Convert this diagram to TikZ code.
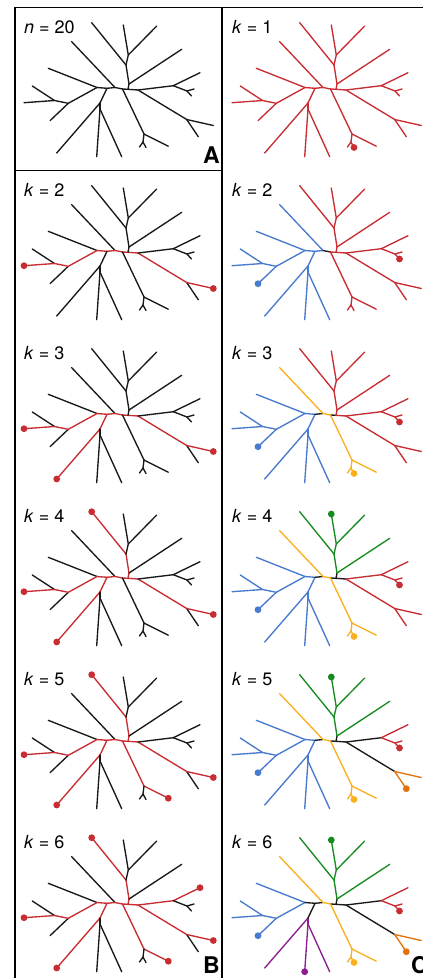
\documentclass[tikz,border=0pt]{standalone}
\usepackage{fontspec}
\setmainfont{TeX Gyre Heros}
\definecolor{ClustRed}{RGB}{200,45,50}
\definecolor{ClustBlue}{RGB}{72,122,205}
\definecolor{ClustGold}{RGB}{250,176,30}
\definecolor{ClustGreen}{RGB}{22,140,32}
\definecolor{ClustPurple}{RGB}{140,30,145}
\definecolor{ClustOrange}{RGB}{228,115,15}
\definecolor{TreeBlack}{RGB}{25,25,25}

% one copy of the 20-leaf tree, named #1..., shifted by (#2,#3)
\newcommand\placetree[3]{%
  \begin{scope}[shift={(#2,#3)}]
    \coordinate (#1l1) at (91.7,22.7);  \coordinate (#1l2) at (123.3,25);
    \coordinate (#1l3) at (156.7,26);   \coordinate (#1l4) at (181.7,49.3);
    \coordinate (#1l5) at (200,72.7);   \coordinate (#1l6) at (194,89);
    \coordinate (#1l7) at (191.5,96);   \coordinate (#1l8) at (213.3,125.5);
    \coordinate (#1l9) at (198.3,136.7);\coordinate (#1l10) at (168.3,146.2);
    \coordinate (#1l11) at (139.5,147); \coordinate (#1l12) at (146,147.5);
    \coordinate (#1l13) at (121.7,156.7);\coordinate (#1l14) at (96.7,156.7);
    \coordinate (#1l15) at (56.7,153);  \coordinate (#1l16) at (50,120.7);
    \coordinate (#1l17) at (24,102.7);  \coordinate (#1l18) at (32.3,86);
    \coordinate (#1l19) at (48.3,68.3); \coordinate (#1l20) at (71.7,41.7);
    \coordinate (#1T1) at (128.3,55);   \coordinate (#1T2) at (126,65);
    \coordinate (#1T3) at (129,84);     \coordinate (#1N3) at (128,89.3);
    \coordinate (#1R0) at (138,90);     \coordinate (#1R1) at (173.3,85.7);
    \coordinate (#1R2) at (187,91);     \coordinate (#1R3) at (186.7,119.5);
    \coordinate (#1BM) at (144,134);    \coordinate (#1BMf) at (143,142);
    \coordinate (#1N2) at (122.5,89);   \coordinate (#1N1) at (115,87.5);
    \coordinate (#1N0) at (107,88.3);   \coordinate (#1BL) at (100,103);
    \coordinate (#1BLb) at (100,109);   \coordinate (#1L) at (97,87.5);
    \coordinate (#1LL) at (68.3,103.3); \coordinate (#1LLb) at (54.5,100.5);
  \end{scope}}

% edge groups
\def\EdgesLeft{LLb/l17, LLb/l18, LL/LLb, LL/l16, L/LL, L/l19}
\def\EdgesBL{BL/l15, BL/BLb, BLb/l13, BLb/l14}
\def\EdgesBM{N2/BM, BM/l10, BM/BMf, BMf/l11, BMf/l12}
\def\EdgesT{T3/l4, T3/T2, T2/l1, T2/T1, T1/l2, T1/l3}
\def\EdgesRa{R1/l5, R1/R2, R2/l6, R2/l7}
\def\EdgesRb{R3/l8, R3/l9}
\def\EdgesMid{L/N0, N0/BL, N0/N1, N1/l20, N1/N2, N2/N3, N3/T3, N3/R0, R0/R1, R0/R3}
% red paths of panel B, and what stays black
\def\PathTwo{LLb/l17, LL/LLb, L/LL, L/N0, N0/N1, N1/N2, N2/N3, N3/R0, R0/R3, R3/l8}
\def\PathThree{N0/BL, BL/l15}
\def\PathFour{N3/T3, T3/T2, T2/l1}
\def\PathFive{N2/BM, BM/l10}
\def\PathSix{R0/R1, R1/l5}
\def\BlackCommon{LLb/l18, LL/l16, L/l19, N1/l20, R3/l9}
\def\BlackBL{BL/BLb, BLb/l13, BLb/l14}
\def\BlackT{T3/l4, T2/T1, T1/l2, T1/l3}
\def\BlackR{R1/R2, R2/l6, R2/l7}
\def\BlackBM{BM/BMf, BMf/l11, BMf/l12}

\newcommand\paint[3]{\foreach \a/\b in #3 {\draw[branch=#2] (#1\a) -- (#1\b);}}
\newcommand\paintall[2]{%
  \paint{#1}{#2}{\EdgesLeft}\paint{#1}{#2}{\EdgesBL}\paint{#1}{#2}{\EdgesBM}%
  \paint{#1}{#2}{\EdgesT}\paint{#1}{#2}{\EdgesRa}\paint{#1}{#2}{\EdgesRb}%
  \paint{#1}{#2}{\EdgesMid}}

\begin{document}
\begin{tikzpicture}[x=1pt, y=-1pt,
    branch/.style={draw=#1, line width=1.35pt, line cap=round},
    leafdot/.style={circle, fill=#1, inner sep=0pt, minimum size=6.8pt},
    title/.style={anchor=base west, inner sep=0pt, font=\fontsize{18}{21}\selectfont},
    tag/.style={anchor=base east, inner sep=0pt, font=\fontsize{23}{26}\selectfont\bfseries}
]
    \useasboundingbox (0,0) rectangle (423,978);
    \clip (0,0) rectangle (423,978);

    % frame
    \draw[line width=1.2pt] (15,7.5) rectangle (430,986);
    \draw[line width=1.2pt] (222,7.5) -- (222,986);
    \draw[line width=1.2pt] (15,170.5) -- (222,170.5);

    \placetree{a}{0}{0}
    \placetree{c1}{208}{0}
    \placetree{b2}{0}{163}   \placetree{c2}{208}{163}
    \placetree{b3}{0}{326}   \placetree{c3}{208}{326}
    \placetree{b4}{0}{489}   \placetree{c4}{208}{489}
    \placetree{b5}{0}{652}   \placetree{c5}{208}{652}
    \placetree{b6}{0}{815}   \placetree{c6}{208}{815}

    % A: the tree
    \paintall{a}{TreeBlack}
    \node[title] (aTitle) at (24,33) {\textit{n} = 20};
    \node[tag] (aTag) at (220,163) {A};

    % B: paths between chosen leaves
    \foreach \r in {2,...,6} {\paint{b\r}{TreeBlack}{\BlackCommon}}
    \foreach \r in {2,...,6} {\paint{b\r}{ClustRed}{\PathTwo}}
    \paint{b2}{TreeBlack}{{N0/BL, N3/T3, R0/R1}}
    \paint{b2}{TreeBlack}{\EdgesBL}\paint{b2}{TreeBlack}{\EdgesBM}
    \paint{b2}{TreeBlack}{\EdgesT}\paint{b2}{TreeBlack}{\EdgesRa}

    \paint{b3}{ClustRed}{\PathThree}
    \paint{b3}{TreeBlack}{{N3/T3, R0/R1}}
    \paint{b3}{TreeBlack}{\BlackBL}\paint{b3}{TreeBlack}{\EdgesBM}
    \paint{b3}{TreeBlack}{\EdgesT}\paint{b3}{TreeBlack}{\EdgesRa}

    \paint{b4}{ClustRed}{\PathThree}\paint{b4}{ClustRed}{\PathFour}
    \paint{b4}{TreeBlack}{{R0/R1}}
    \paint{b4}{TreeBlack}{\BlackBL}\paint{b4}{TreeBlack}{\EdgesBM}
    \paint{b4}{TreeBlack}{\BlackT}\paint{b4}{TreeBlack}{\EdgesRa}

    \paint{b5}{ClustRed}{\PathThree}\paint{b5}{ClustRed}{\PathFour}
    \paint{b5}{ClustRed}{\PathFive}
    \paint{b5}{TreeBlack}{{R0/R1}}
    \paint{b5}{TreeBlack}{\BlackBL}\paint{b5}{TreeBlack}{\BlackBM}
    \paint{b5}{TreeBlack}{\BlackT}\paint{b5}{TreeBlack}{\EdgesRa}

    \paint{b6}{ClustRed}{\PathThree}\paint{b6}{ClustRed}{\PathFour}
    \paint{b6}{ClustRed}{\PathFive}\paint{b6}{ClustRed}{\PathSix}
    \paint{b6}{TreeBlack}{\BlackBL}\paint{b6}{TreeBlack}{\BlackBM}
    \paint{b6}{TreeBlack}{\BlackT}\paint{b6}{TreeBlack}{\BlackR}

    \foreach \r in {2,...,6} {
        \node[leafdot=ClustRed] (b\r dotl17) at (b\r l17) {};
        \node[leafdot=ClustRed] (b\r dotl8) at (b\r l8) {};
    }
    \foreach \r in {3,...,6} {\node[leafdot=ClustRed] (b\r dotl15) at (b\r l15) {};}
    \foreach \r in {4,...,6} {\node[leafdot=ClustRed] (b\r dotl1) at (b\r l1) {};}
    \foreach \r in {5,6} {\node[leafdot=ClustRed] (b\r dotl10) at (b\r l10) {};}
    \node[leafdot=ClustRed] (b6dotl5) at (b6l5) {};
    \foreach \r in {2,...,6} {
        \node[title] (b\r Title) at (24,33+163*\r-163) {\textit{k} = \r};
    }
    \node[tag] (bTag) at (220,973) {B};

    % C: clusters
    \paintall{c1}{ClustRed}
    \node[leafdot=ClustRed] (c1dot) at (c1l12) {};

    \paint{c2}{ClustBlue}{\EdgesLeft}\paint{c2}{ClustBlue}{\EdgesBL}
    \paint{c2}{ClustBlue}{{L/N0, N0/BL, N0/N1, N1/l20}}
    \paint{c2}{TreeBlack}{{N1/N2}}
    \paint{c2}{ClustRed}{\EdgesBM}\paint{c2}{ClustRed}{\EdgesT}
    \paint{c2}{ClustRed}{\EdgesRa}\paint{c2}{ClustRed}{\EdgesRb}
    \paint{c2}{ClustRed}{{N2/N3, N3/T3, N3/R0, R0/R1, R0/R3}}
    \node[leafdot=ClustBlue] (c2dotB) at (c2l16) {};
    \node[leafdot=ClustRed] (c2dotR) at (c2l7) {};

    \paint{c3}{ClustBlue}{\EdgesLeft}\paint{c3}{ClustBlue}{\EdgesBL}
    \paint{c3}{ClustBlue}{{L/N0, N0/BL}}
    \paint{c3}{TreeBlack}{{N0/N1, N2/N3}}
    \paint{c3}{ClustGold}{\EdgesBM}\paint{c3}{ClustGold}{{N1/l20, N1/N2}}
    \paint{c3}{ClustRed}{\EdgesT}\paint{c3}{ClustRed}{\EdgesRa}\paint{c3}{ClustRed}{\EdgesRb}
    \paint{c3}{ClustRed}{{N3/T3, N3/R0, R0/R1, R0/R3}}
    \node[leafdot=ClustBlue] (c3dotB) at (c3l16) {};
    \node[leafdot=ClustGold] (c3dotY) at (c3l12) {};
    \node[leafdot=ClustRed] (c3dotR) at (c3l7) {};

    \paint{c4}{ClustBlue}{\EdgesLeft}\paint{c4}{ClustBlue}{\EdgesBL}
    \paint{c4}{ClustBlue}{{L/N0, N0/BL}}
    \paint{c4}{TreeBlack}{{N0/N1, N2/N3, N3/T3, N3/R0}}
    \paint{c4}{ClustGold}{\EdgesBM}\paint{c4}{ClustGold}{{N1/l20, N1/N2}}
    \paint{c4}{ClustGreen}{\EdgesT}
    \paint{c4}{ClustRed}{\EdgesRa}\paint{c4}{ClustRed}{\EdgesRb}
    \paint{c4}{ClustRed}{{R0/R1, R0/R3}}
    \node[leafdot=ClustBlue] (c4dotB) at (c4l16) {};
    \node[leafdot=ClustGold] (c4dotY) at (c4l12) {};
    \node[leafdot=ClustGreen] (c4dotG) at (c4l2) {};
    \node[leafdot=ClustRed] (c4dotR) at (c4l7) {};

    \paint{c5}{ClustBlue}{\EdgesLeft}\paint{c5}{ClustBlue}{\EdgesBL}
    \paint{c5}{ClustBlue}{{L/N0, N0/BL}}
    \paint{c5}{TreeBlack}{{N0/N1, N2/N3, N3/T3, N3/R0, R0/R1, R0/R3}}
    \paint{c5}{ClustGold}{\EdgesBM}\paint{c5}{ClustGold}{{N1/l20, N1/N2}}
    \paint{c5}{ClustGreen}{\EdgesT}
    \paint{c5}{ClustRed}{\EdgesRa}
    \paint{c5}{ClustOrange}{\EdgesRb}
    \node[leafdot=ClustBlue] (c5dotB) at (c5l16) {};
    \node[leafdot=ClustGold] (c5dotY) at (c5l12) {};
    \node[leafdot=ClustGreen] (c5dotG) at (c5l2) {};
    \node[leafdot=ClustRed] (c5dotR) at (c5l7) {};
    \node[leafdot=ClustOrange] (c5dotO) at (c5l9) {};

    \paint{c6}{ClustBlue}{\EdgesLeft}
    \paint{c6}{ClustPurple}{\EdgesBL}
    \paint{c6}{TreeBlack}{{L/N0, N0/BL, N0/N1, N2/N3, N3/T3, N3/R0, R0/R1, R0/R3}}
    \paint{c6}{ClustGold}{\EdgesBM}\paint{c6}{ClustGold}{{N1/l20, N1/N2}}
    \paint{c6}{ClustGreen}{\EdgesT}
    \paint{c6}{ClustRed}{\EdgesRa}
    \paint{c6}{ClustOrange}{\EdgesRb}
    \node[leafdot=ClustBlue] (c6dotB) at (c6l16) {};
    \node[leafdot=ClustPurple] (c6dotP) at (c6l14) {};
    \node[leafdot=ClustGold] (c6dotY) at (c6l12) {};
    \node[leafdot=ClustGreen] (c6dotG) at (c6l2) {};
    \node[leafdot=ClustRed] (c6dotR) at (c6l7) {};
    \node[leafdot=ClustOrange] (c6dotO) at (c6l9) {};

    \foreach \r in {1,...,6} {
        \node[title] (c\r Title) at (232,33+163*\r-163) {\textit{k} = \r};
    }
    \node[tag] (cTag) at (428,973) {C};
\end{tikzpicture}
\end{document}
